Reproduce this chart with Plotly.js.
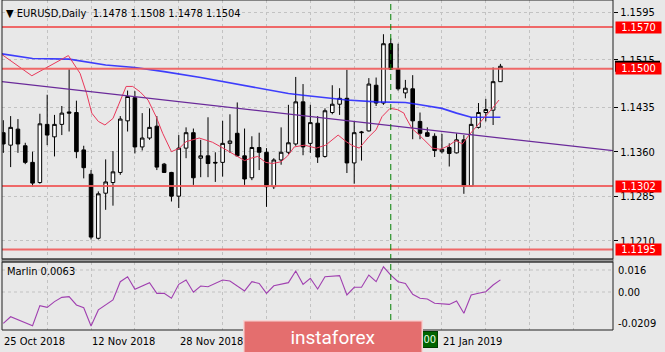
<!DOCTYPE html>
<html>
<head>
<meta charset="utf-8">
<script src="https://cdn.plot.ly/plotly-3.0.1.min.js"></script>
<style>
html,body{margin:0;padding:0;background:#e8e8e8;}
#chart{width:665px;height:352px;}
</style>
</head>
<body>
<div id="chart"></div>
<script>
// ---- data ----
const opens  = [1.1392,1.1371,1.1398,1.1370,1.1342,1.1308,1.1406,1.1385,1.1406,1.1427,1.1426,1.1363,1.1322,1.1214,1.1290,1.1308,1.1325,1.1412,1.1451,1.1368,1.1383,1.1403,1.1339,1.1325,1.1285,1.1366,1.1392,1.1349,1.1353,1.1342,1.1342,1.1374,1.1391,1.1353,1.1316,1.1367,1.1359,1.1301,1.1346,1.1359,1.1373,1.1444,1.1374,1.1408,1.1352,1.1426,1.1440,1.1450,1.1341,1.1392,1.1395,1.1472,1.1442,1.1542,1.1499,1.1459,1.1466,1.1411,1.1392,1.1386,1.1360,1.1367,1.1358,1.1380,1.1302,1.1401,1.1426,1.1430,1.1478];
const highs  = [1.1413,1.1420,1.1415,1.1375,1.1360,1.1424,1.1456,1.1422,1.1437,1.1499,1.1446,1.1370,1.1329,1.1293,1.1347,1.1361,1.1420,1.1463,1.1462,1.1425,1.1433,1.1420,1.1341,1.1326,1.1388,1.1401,1.1399,1.1380,1.1418,1.1359,1.1412,1.1423,1.1443,1.1399,1.1386,1.1392,1.1366,1.1349,1.1401,1.1439,1.1486,1.1474,1.1439,1.1420,1.1433,1.1472,1.1467,1.1498,1.1411,1.1395,1.1484,1.1485,1.1558,1.1551,1.1542,1.1481,1.1489,1.1426,1.1401,1.1391,1.1390,1.1374,1.1391,1.1388,1.1418,1.1442,1.1449,1.1502,1.1508];
const lows   = [1.1358,1.1334,1.1358,1.1339,1.1301,1.1306,1.1371,1.1352,1.1388,1.1394,1.1349,1.1315,1.1212,1.1212,1.1262,1.1269,1.1321,1.1394,1.1357,1.1362,1.1380,1.1329,1.1324,1.1276,1.1265,1.1349,1.1304,1.1317,1.1317,1.1309,1.1318,1.1358,1.1352,1.1304,1.1312,1.1329,1.1267,1.1297,1.1338,1.1356,1.1370,1.1354,1.1358,1.1341,1.1350,1.1423,1.1422,1.1324,1.1306,1.1345,1.1394,1.1437,1.1439,1.1498,1.1463,1.1450,1.1381,1.1381,1.1385,1.1351,1.1357,1.1335,1.1357,1.1289,1.1301,1.1399,1.1411,1.1405,1.1478];
const closes = [1.1373,1.1401,1.1373,1.1342,1.1307,1.1407,1.1388,1.1406,1.1425,1.1425,1.1360,1.1333,1.1216,1.1289,1.1309,1.1326,1.1415,1.1453,1.1368,1.1383,1.1401,1.1334,1.1325,1.1285,1.1366,1.1392,1.1316,1.1353,1.1340,1.1341,1.1374,1.1378,1.1353,1.1314,1.1367,1.1359,1.1301,1.1346,1.1359,1.1375,1.1444,1.1368,1.1409,1.1351,1.1429,1.1440,1.1450,1.1341,1.1392,1.1393,1.1474,1.1442,1.1542,1.1499,1.1466,1.1467,1.1412,1.1391,1.1386,1.1362,1.1364,1.1357,1.1380,1.1302,1.1406,1.1426,1.1431,1.1478,1.1504];

// slow moving average (blue), read at some bars
const blueIdx = [-0.2,4,9,14,18,20,22,27,31,36,39,41,45,47,51,55,57,60,62,64,68];
const blueVal = [1.1525,1.1517,1.1516,1.1506,1.1502,1.1499,1.1495,1.1485,1.1476,1.1464,1.1458,1.1455,1.1450,1.1447,1.1444,1.1443,1.1439,1.1433,1.1425,1.1418,1.1418];

// fast moving average (red)
const redIdx = [-0.45,3.9,8.9,10.5,11.4,12.1,13.0,13.9,15.0,15.9,16.8,17.7,18.7,19.8,20.9,21.8,23.0,24.1,25.0,26.8,28.6,30.5,31.8,33.0,33.9,34.8,35.9,36.8,38.0,38.9,39.8,41.2,42.8,44.1,45.8,46.9,47.8,48.7,50.0,51.0,51.8,52.9,53.9,54.8,55.0,55.9,56.9,57.8,58.7,59.8,60.9,61.9,62.8,63.7,64.8,65.7,66.9,67.8];
const redVal = [1.1526,1.1488,1.1522,1.1492,1.1458,1.1425,1.1411,1.1405,1.1416,1.1444,1.1470,1.1470,1.1461,1.1447,1.1419,1.1391,1.1360,1.1366,1.1377,1.1383,1.1376,1.1363,1.1353,1.1345,1.1349,1.1352,1.1342,1.1340,1.1343,1.1353,1.1368,1.1371,1.1366,1.1371,1.1388,1.1377,1.1370,1.1366,1.1385,1.1397,1.1419,1.1433,1.1431,1.1425,1.1419,1.1399,1.1388,1.1377,1.1366,1.1364,1.1370,1.1379,1.1373,1.1388,1.1403,1.1416,1.1433,1.1447];

// trend line end points
const trendIdx = [-0.18,83.4];
const trendVal = [1.1478,1.13617];

// horizontal levels
const levels = [1.1570,1.1500,1.1302,1.1195];
const lastPrice = 1.1504;

// Marlin oscillator
const marlinIdx = [0,1,4,5,6,7,8,9,10,11,12,13,15,16,17,18,20,21,22,23,24,25,26,27,28,30,31,33,34,35,36,37,39,40,41,42,43,44,46,47,48,49,50,51,52,53,54,55,56,57,58,59,61,62,63,64,65,66,67,68];
const marlinVal = [-0.0173,-0.0137,-0.0186,-0.0077,-0.0086,-0.0055,-0.0032,-0.0028,-0.0073,-0.0088,-0.0187,-0.0100,-0.0046,0.0053,0.0080,0.0012,0.0048,-0.0010,-0.0010,-0.0037,0.0039,0.0062,-0.0004,0.0030,0.0026,0.0062,0.0057,0.0003,0.0053,0.0044,-0.0010,0.0031,0.0048,0.0111,0.0039,0.0072,0.0013,0.0080,0.0086,-0.0019,0.0023,0.0023,0.0089,0.0053,0.0134,0.0089,0.0053,0.0044,-0.0015,-0.0037,-0.0041,-0.0064,-0.0070,-0.0052,-0.0118,-0.0019,-0.0010,-0.0001,0.0035,0.0063];

// axis labels (only those visible in the reference)
const priceTicks = [1.1595,1.1515,1.1435,1.1360,1.1285,1.1210];
const dateIdx = [0,12,24,60];
const dateText = ['25 Oct 2018','12 Nov 2018','28 Nov 2018','21 Jan 2019'];
const vlineIdx = 53;
const vlineText = '10 Jan 2019 00:00';
const headerText = '\u25BC EURUSD,Daily\u00a0\u00a01.1478 1.1508 1.1478 1.1504';
const marlinText = 'Marlin 0.0063';
const oscLabels = ['0.016','0.00','-0.0209'];

// ---- build ----
const barIdx = opens.map((_, i) => i);
const gridIdx = [];
for (let g = 6; g <= 82; g += 6) gridIdx.push(g);

const FONT = "'DejaVu Sans Condensed', 'DejaVu Sans', sans-serif";
const BG = '#e8e8e8';
const GRID = '#c2c2c2';
const XR = [-0.18, 83.4];
const YR = [1.117908, 1.16157];
const PH = 330; // plot area height in px
const MAIN_H = 259;
const py = px => (PH - px) / PH;           // pixel row -> paper y
const pxx = px => (px - 2) / 611;          // pixel col -> paper x
const priceToPaper = v => py(MAIN_H) + (v - YR[0]) / (YR[1] - YR[0]) * (1 - py(MAIN_H));

const traces = [
  {
    type: 'candlestick', x: barIdx, open: opens, high: highs, low: lows, close: closes,
    xaxis: 'x', yaxis: 'y', whiskerwidth: 0,
    increasing: {line: {color: '#000', width: 1}, fillcolor: '#ffffff'},
    decreasing: {line: {color: '#000', width: 1}, fillcolor: '#000000'},
    hoverinfo: 'skip'
  },
  {type: 'scatter', mode: 'lines', x: blueIdx, y: blueVal, xaxis: 'x', yaxis: 'y',
   line: {color: 'rgba(30,30,255,0.85)', width: 1.6}, hoverinfo: 'skip'},
  {type: 'scatter', mode: 'lines', x: redIdx, y: redVal, xaxis: 'x', yaxis: 'y',
   line: {color: '#e8385a', width: 1}, hoverinfo: 'skip'},
  {type: 'scatter', mode: 'lines', x: trendIdx, y: trendVal, xaxis: 'x', yaxis: 'y',
   line: {color: '#6a2a9a', width: 1.3}, hoverinfo: 'skip'},
  {type: 'scatter', mode: 'lines', x: marlinIdx, y: marlinVal, xaxis: 'x2', yaxis: 'y2',
   line: {color: '#a040b0', width: 1.1}, hoverinfo: 'skip'}
];

const shapes = [];
[270, 292].forEach(r => shapes.push({type: 'line', xref: 'paper', yref: 'paper', x0: 0, x1: 1, y0: py(r), y1: py(r),
  line: {color: GRID, width: 1, dash: '3px,3px'}, layer: 'below'}));
levels.forEach(v => shapes.push({type: 'line', xref: 'paper', yref: 'y', x0: 0, x1: 1, y0: v, y1: v,
  line: {color: 'rgba(240,90,90,0.9)', width: 2}, layer: 'above'}));
shapes.push({type: 'line', xref: 'x', yref: 'paper', x0: vlineIdx, x1: vlineIdx, y0: 0, y1: 1,
  line: {color: '#008000', width: 1, dash: '6px,4px'}, layer: 'above'});
shapes.push({type: 'rect', xref: 'paper', yref: 'paper', x0: 0, x1: 1, y0: py(259), y1: py(262),
  fillcolor: '#9a9a9a', line: {color: '#6a6a6a', width: 1}, layer: 'above'});
shapes.push({type: 'rect', xref: 'paper', yref: 'paper', x0: 0, x1: 1, y0: py(259), y1: 1,
  fillcolor: 'rgba(0,0,0,0)', line: {color: '#202020', width: 1}, layer: 'above'});
shapes.push({type: 'rect', xref: 'paper', yref: 'paper', x0: 0, x1: 1, y0: 0, y1: py(262),
  fillcolor: 'rgba(0,0,0,0)', line: {color: '#202020', width: 1}, layer: 'above'});
// current-price marker (black box, mostly hidden under the 1.1500 label)
const lp = priceToPaper(lastPrice);
const halfBox = 5.5 / PH;
shapes.push({type: 'rect', xref: 'paper', yref: 'paper', x0: pxx(615), x1: pxx(660), y0: lp - halfBox, y1: lp + halfBox,
  fillcolor: '#000000', line: {width: 0}, layer: 'above'});

const annotations = [];
dateIdx.forEach((d, i) => annotations.push({xref: 'x2', yref: 'paper', x: d, y: py(341), xanchor: 'left', yanchor: 'middle',
  xshift: -1, text: dateText[i], showarrow: false, font: {family: FONT, size: 11, color: '#000'}}));
annotations.push({xref: 'x2', yref: 'paper', x: vlineIdx, y: py(339.2), xanchor: 'center', yanchor: 'middle',
  text: vlineText, showarrow: false, bgcolor: '#006400', bordercolor: '#003c00', borderwidth: 1, borderpad: 1,
  font: {family: FONT, size: 11, color: '#e6ffe6'}});
annotations.push({xref: 'paper', yref: 'paper', x: pxx(333), y: py(336.6), xanchor: 'center', yanchor: 'middle',
  text: 'instaforex', showarrow: false, width: 177, height: 31, bgcolor: '#e46e6e', bordercolor: '#f6d4d4', borderwidth: 1.5, borderpad: 0,
  font: {family: 'Roboto, sans-serif', size: 19, color: '#ffffff'}});
annotations.push({xref: 'paper', yref: 'paper', x: pxx(4), y: py(13), xanchor: 'left', yanchor: 'middle',
  text: headerText, showarrow: false, font: {family: FONT, size: 11, color: '#000'}});
annotations.push({xref: 'paper', yref: 'paper', x: pxx(5), y: py(271), xanchor: 'left', yanchor: 'middle',
  text: marlinText, showarrow: false, font: {family: FONT, size: 11, color: '#000'}});
[270, 292, 323.3].forEach((r, i) => annotations.push({xref: 'paper', yref: 'paper', x: pxx(616), y: py(r), xanchor: 'left', yanchor: 'middle',
  text: oscLabels[i], showarrow: false, font: {family: FONT, size: 11, color: '#000'}}));
levels.forEach(v => annotations.push({xref: 'paper', yref: 'y', x: pxx(615), y: v, xanchor: 'left', yanchor: 'middle',
  text: v.toFixed(4), showarrow: false, width: 45, height: 11, borderpad: 0, bgcolor: '#ff0000',
  font: {family: FONT, size: 11, color: '#ffffff'}}));

const layout = {
  width: 665, height: 352,
  margin: {l: 2, r: 52, t: 0, b: 22, pad: 0},
  paper_bgcolor: BG, plot_bgcolor: BG,
  showlegend: false, hovermode: false, dragmode: false,
  font: {family: FONT, size: 11, color: '#000'},
  xaxis: {domain: [0, 1], anchor: 'y', range: XR, tickvals: gridIdx, showticklabels: false, ticks: '',
    showgrid: true, gridcolor: GRID, gridwidth: 1, griddash: '3px,3px', zeroline: false, showline: false,
    rangeslider: {visible: false}, fixedrange: true},
  yaxis: {domain: [py(MAIN_H), 1], anchor: 'x', range: YR, side: 'right',
    tickvals: priceTicks, ticktext: priceTicks.map(v => v.toFixed(4)), ticks: 'outside', ticklen: 4, tickcolor: '#000',
    tickfont: {family: FONT, size: 11, color: '#000'},
    showgrid: true, gridcolor: GRID, gridwidth: 1, griddash: '3px,3px', zeroline: false, showline: false, fixedrange: true},
  xaxis2: {domain: [0, 1], anchor: 'y2', range: XR, tickvals: gridIdx, showticklabels: false, ticks: '',
    showgrid: true, gridcolor: GRID, gridwidth: 1, griddash: '3px,3px', zeroline: false, showline: false, fixedrange: true},
  yaxis2: {domain: [0, py(262)], anchor: 'x2', range: [-0.0209, 0.016], side: 'right', showticklabels: false, ticks: '',
    showgrid: false, zeroline: false, showline: false, fixedrange: true},
  shapes: shapes,
  annotations: annotations
};

Plotly.newPlot('chart', traces, layout, {staticPlot: true, displayModeBar: false});
</script>
</body>
</html>
